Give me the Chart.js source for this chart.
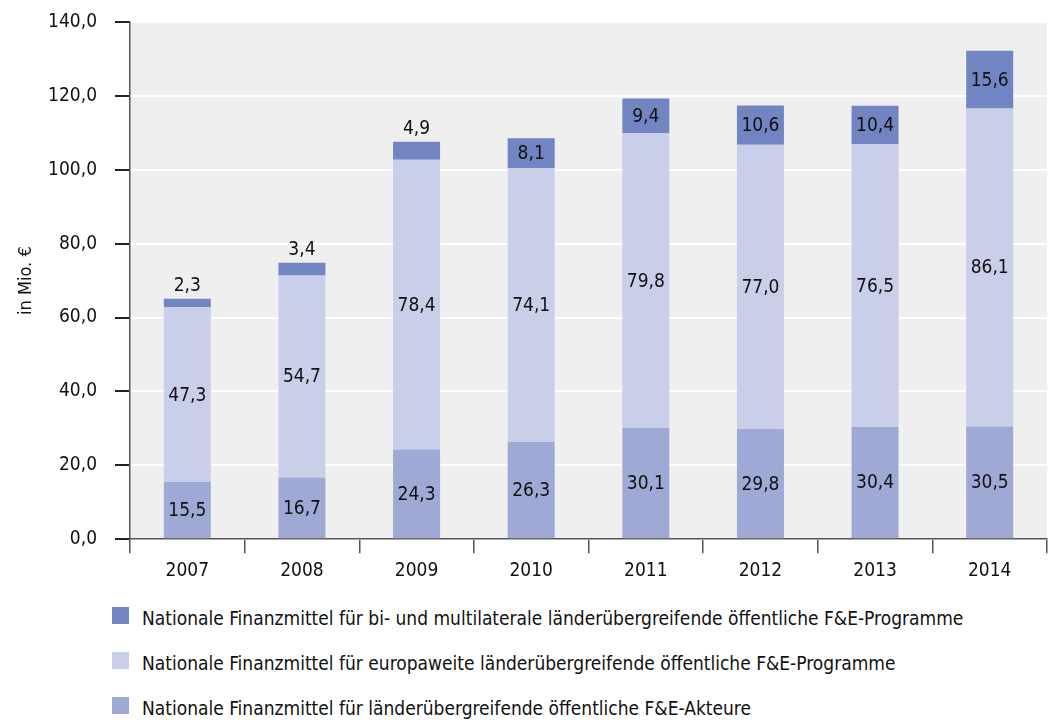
<!DOCTYPE html>
<html lang="de">
<head>
<meta charset="utf-8">
<script src="https://cdn.jsdelivr.net/npm/chart.js@4.4.1/dist/chart.umd.min.js"></script>
<style>
  html, body { margin: 0; padding: 0; background: #fff; }
  body { width: 1054px; height: 720px; overflow: hidden; font-family: "Liberation Sans Narrow", "DejaVu Sans Condensed", "Roboto Condensed", sans-serif; }
  #wrap { position: absolute; left: 0; top: 2px; width: 1054px; height: 586px; }
  #legende { margin: 0; padding: 0; list-style: none; position: absolute; left: 112px; top: 605px; }
  #legende li { height: 45px; line-height: 26px; font-size: 19px; color: #111; display: flex; align-items: flex-start; white-space: nowrap; }
  #legende span.box { display: inline-block; width: 17px; height: 17px; margin: 2px 13px 0 0; }
</style>
</head>
<body>
<div id="wrap"><canvas id="chart_finanz"></canvas></div>
<ul id="legende"></ul>
<script>
// Jahre und Werte (in Mio. €)
const jahre = ['2007', '2008', '2009', '2010', '2011', '2012', '2013', '2014'];
const akteure = [15.5, 16.7, 24.3, 26.3, 30.1, 29.8, 30.4, 30.5];
const europaweit = [47.3, 54.7, 78.4, 74.1, 79.8, 77.0, 76.5, 86.1];
const biMulti = [2.3, 3.4, 4.9, 8.1, 9.4, 10.6, 10.4, 15.6];

const labelAkteure = 'Nationale Finanzmittel für länderübergreifende öffentliche F&E-Akteure';
const labelEuropa = 'Nationale Finanzmittel für europaweite länderübergreifende öffentliche F&E-Programme';
const labelBiMulti = 'Nationale Finanzmittel für bi- und multilaterale länderübergreifende öffentliche F&E-Programme';

const FONT = '"Liberation Sans Narrow", "DejaVu Sans Condensed", "Roboto Condensed", sans-serif';
const fmt = v => v.toFixed(1).replace('.', ',');

// grauer Hintergrund der Zeichenfläche
const hintergrund = {
    id: 'hintergrund',
    beforeDraw(chart) {
        const { ctx, chartArea: a } = chart;
        ctx.save();
        ctx.fillStyle = '#efefef';
        ctx.fillRect(a.left, a.top, a.right - a.left, a.bottom - a.top);
        ctx.restore();
    }
};

// Werte in bzw. über den Segmenten
const werte = {
    id: 'werte',
    afterDatasetsDraw(chart) {
        const { ctx } = chart;
        ctx.save();
        ctx.font = '19px ' + FONT;
        ctx.fillStyle = '#111';
        ctx.textAlign = 'center';
        chart.data.datasets.forEach((ds, i) => {
            chart.getDatasetMeta(i).data.forEach((bar, j) => {
                const v = ds.data[j];
                if (v < 5) {
                    ctx.textBaseline = 'bottom';
                    ctx.fillText(fmt(v), bar.x, bar.y - 3);
                } else {
                    ctx.textBaseline = 'middle';
                    ctx.fillText(fmt(v), bar.x, (bar.y + bar.base) / 2 + 1);
                }
            });
        });
        ctx.restore();
    }
};

const datasets = [
    { label: labelAkteure, data: akteure, backgroundColor: '#9fa9d6' },
    { label: labelEuropa, data: europaweit, backgroundColor: '#c9cee9' },
    { label: labelBiMulti, data: biMulti, backgroundColor: '#7085c2' }
];

new Chart(document.getElementById('chart_finanz'), {
    type: 'bar',
    data: {
        labels: jahre,
        datasets: datasets.map(d => ({ ...d, barPercentage: 0.41, categoryPercentage: 1, borderWidth: 0 }))
    },
    options: {
        responsive: true,
        maintainAspectRatio: false,
        animation: false,
        layout: { padding: { top: 7, right: 7, left: 8, bottom: 0 } },
        plugins: { legend: { display: false }, tooltip: { enabled: false } },
        scales: {
            x: {
                stacked: true,
                border: { color: '#555', width: 1.5 },
                grid: { offset: true, drawOnChartArea: false, tickLength: 14, tickColor: '#555', lineWidth: 1.5 },
                ticks: { color: '#111', font: { family: FONT, size: 19 }, padding: 6 }
            },
            y: {
                stacked: true,
                min: 0, max: 140,
                border: { color: '#555', width: 1.5 },
                grid: { color: '#ffffff', lineWidth: 2, tickColor: '#222', tickLength: 15 },
                ticks: { stepSize: 20, color: '#111', font: { family: FONT, size: 19 }, padding: 18, callback: v => fmt(v) },
                title: { display: true, text: 'in Mio. €', color: '#111', font: { family: FONT, size: 18 }, padding: { top: 8, bottom: 0 } },
                // feste Achsenbreite, damit die Zeichenfläche bei x = 130 beginnt
                afterFit(scale) {
                    scale.width = 122;
                    scale.paddingTop = 20;
                    scale.paddingBottom = 20;
                }
            }
        }
    },
    plugins: [hintergrund, werte]
});

// Legende: Reihenfolge von oben nach unten wie im Stapel
const legende = document.getElementById('legende');
[...datasets].reverse().forEach(d => {
    const li = document.createElement('li');
    li.innerHTML = `<span class="box" style="background:${d.backgroundColor}"></span>${d.label}`;
    legende.appendChild(li);
});
</script>
</body>
</html>
